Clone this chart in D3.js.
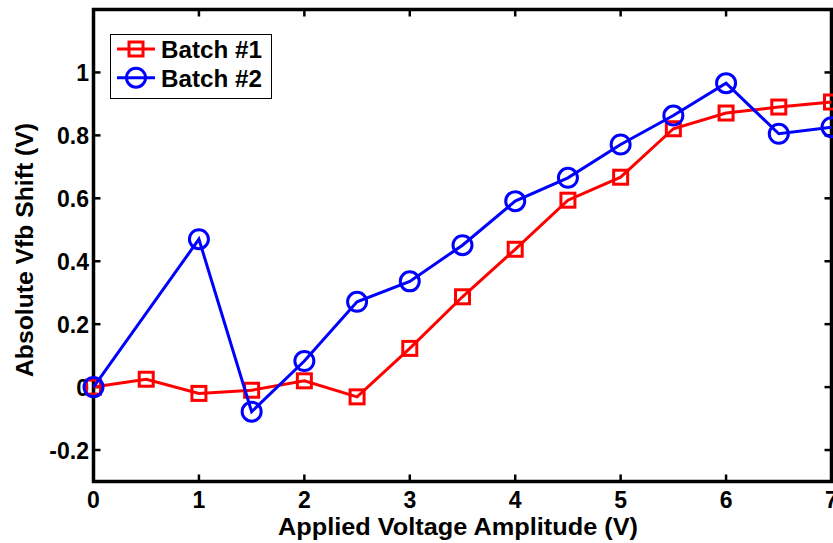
<!DOCTYPE html>
<html>
<head>
<meta charset="utf-8">
<script src="https://cdn.jsdelivr.net/npm/d3@7"></script>
<style>
  html, body { margin: 0; padding: 0; background: #fff; }
  svg { display: block; }
  text { font-family: "Liberation Sans", Arial, sans-serif; font-weight: bold; fill: #000; }
</style>
</head>
<body>
<svg id="chart" width="833" height="543"></svg>
<script>
const xValues = [0, 0.5, 1, 1.5, 2, 2.5, 3, 3.5, 4, 4.5, 5, 5.5, 6, 6.5, 7];
const batch1 = [0, 0.025, -0.02, -0.01, 0.02, -0.031, 0.123, 0.287, 0.438, 0.594, 0.667, 0.821, 0.871, 0.89, 0.906];
const xBatch2 = [0, 1, 1.5, 2, 2.5, 3, 3.5, 4, 4.5, 5, 5.5, 6, 6.5, 7];
const batch2 = [0, 0.47, -0.078, 0.083, 0.271, 0.336, 0.451, 0.591, 0.665, 0.771, 0.863, 0.966, 0.805, 0.826];
const xTicks = [0, 1, 2, 3, 4, 5, 6, 7];
const xTickLabels = ["0", "1", "2", "3", "4", "5", "6", "7"];
const yTicks = [-0.2, 0, 0.2, 0.4, 0.6, 0.8, 1];
const yTickLabels = ["-0.2", "0", "0.2", "0.4", "0.6", "0.8", "1"];
const seriesNames = ["Batch #1", "Batch #2"];
const seriesColors = ["#ff0000", "#0000ff"];
const xLabel = "Applied Voltage Amplitude (V)";
const yLabel = "Absolute Vfb Shift (V)";

const svg = d3.select("#chart");
const L = 93.5, R = 831.5, T = 9.5, B = 481.5;
const x = d3.scaleLinear().domain([0, 7]).range([L, R]);
const y = d3.scaleLinear().domain([-0.3, 1.2]).range([B, T]);
const FS = 23;

// ticks (inward) on all four sides
const tickLen = 7;
const axG = svg.append("g");
xTicks.forEach(v => {
  axG.append("line").attr("x1", x(v)).attr("x2", x(v)).attr("y1", B).attr("y2", B - tickLen)
    .attr("stroke", "#000").attr("stroke-width", 2.5);
  axG.append("line").attr("x1", x(v)).attr("x2", x(v)).attr("y1", T).attr("y2", T + tickLen)
    .attr("stroke", "#000").attr("stroke-width", 2.5);
});
yTicks.forEach(v => {
  axG.append("line").attr("x1", L).attr("x2", L + tickLen).attr("y1", y(v)).attr("y2", y(v))
    .attr("stroke", "#000").attr("stroke-width", 2.5);
  axG.append("line").attr("x1", R).attr("x2", R - tickLen).attr("y1", y(v)).attr("y2", y(v))
    .attr("stroke", "#000").attr("stroke-width", 2.5);
});
axG.append("rect").attr("x", L).attr("y", T).attr("width", R - L).attr("height", B - T)
  .attr("fill", "none").attr("stroke", "#000").attr("stroke-width", 3.5);

// tick labels
xTicks.forEach((v, i) => {
  svg.append("text").attr("x", x(v)).attr("y", 508).attr("text-anchor", "middle")
    .attr("font-size", FS).text(xTickLabels[i]);
});
yTicks.forEach((v, i) => {
  svg.append("text").attr("x", L - 4.5).attr("y", y(v) + 8.5).attr("text-anchor", "end")
    .attr("font-size", FS).text(yTickLabels[i]);
});

// axis titles
svg.append("text").attr("x", 458).attr("y", 535).attr("text-anchor", "middle")
  .attr("font-size", FS).attr("textLength", 360).attr("lengthAdjust", "spacingAndGlyphs").text(xLabel);
svg.append("text").attr("transform", `translate(33, 250) rotate(-90)`)
  .attr("text-anchor", "middle").attr("font-size", FS)
  .attr("textLength", 254).attr("lengthAdjust", "spacingAndGlyphs").text(yLabel);

// series
const line = d3.line().x(d => x(d[0])).y(d => y(d[1]));
const d1 = xValues.map((v, i) => [v, batch1[i]]);
const d2 = xBatch2.map((v, i) => [v, batch2[i]]);

const g1 = svg.append("g");
g1.append("path").datum(d1).attr("d", line).attr("fill", "none")
  .attr("stroke", seriesColors[0]).attr("stroke-width", 3);
const sq = 14;
g1.selectAll("rect").data(d1).join("rect")
  .attr("x", d => x(d[0]) - sq / 2).attr("y", d => y(d[1]) - sq / 2)
  .attr("width", sq).attr("height", sq).attr("fill", "none")
  .attr("stroke", seriesColors[0]).attr("stroke-width", 3);

const g2 = svg.append("g");
g2.append("path").datum(d2).attr("d", line).attr("fill", "none")
  .attr("stroke", seriesColors[1]).attr("stroke-width", 3);
g2.selectAll("circle").data(d2).join("circle")
  .attr("cx", d => x(d[0])).attr("cy", d => y(d[1])).attr("r", 9.5)
  .attr("fill", "none").attr("stroke", seriesColors[1]).attr("stroke-width", 3);

// legend
const lg = svg.append("g");
lg.append("rect").attr("x", 110.5).attr("y", 34.5).attr("width", 161).attr("height", 64)
  .attr("fill", "#fff").attr("stroke", "#000").attr("stroke-width", 1);
const rows = [49, 77.7];
rows.forEach((ry, i) => {
  lg.append("line").attr("x1", 117).attr("x2", 155).attr("y1", ry).attr("y2", ry)
    .attr("stroke", seriesColors[i]).attr("stroke-width", 3);
  if (i === 0) {
    lg.append("rect").attr("x", 136 - sq / 2).attr("y", ry - sq / 2).attr("width", sq).attr("height", sq)
      .attr("fill", "none").attr("stroke", seriesColors[i]).attr("stroke-width", 3);
  } else {
    lg.append("circle").attr("cx", 136).attr("cy", ry).attr("r", 9.5)
      .attr("fill", "none").attr("stroke", seriesColors[i]).attr("stroke-width", 3);
  }
  lg.append("text").attr("x", 161).attr("y", ry + 9).attr("font-size", FS)
    .attr("textLength", 101).attr("lengthAdjust", "spacingAndGlyphs")
    .text(seriesNames[i]);
});
</script>
</body>
</html>
